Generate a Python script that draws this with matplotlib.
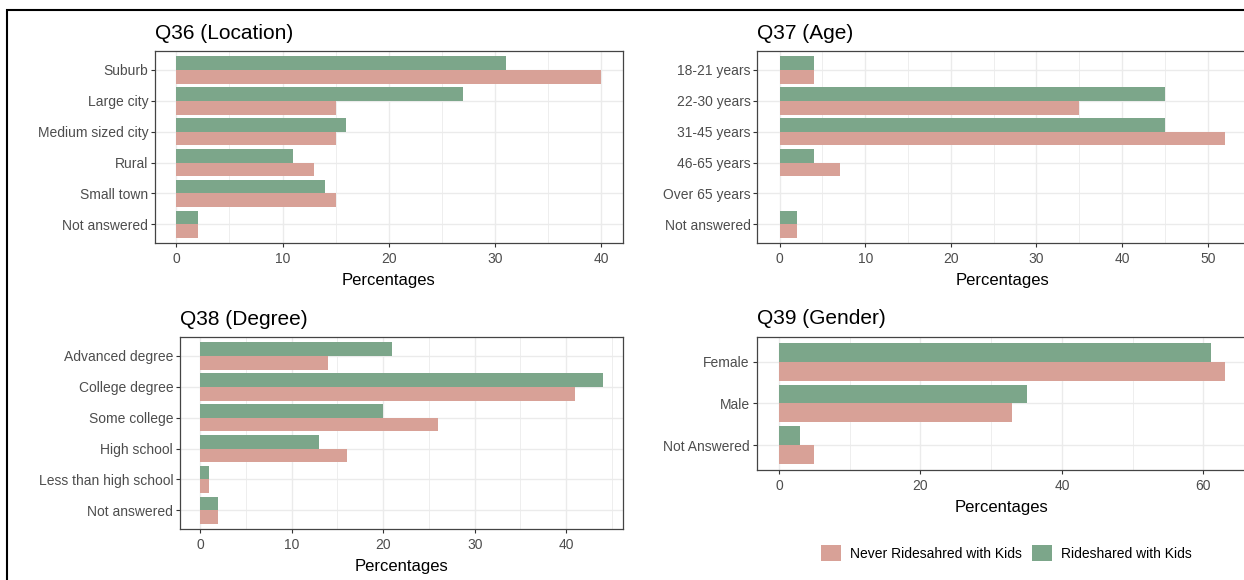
import numpy as np
import matplotlib
matplotlib.use("Agg")
import matplotlib.pyplot as plt
from matplotlib.patches import Patch, Rectangle

plt.rcParams['font.family'] = ['Liberation Sans', 'DejaVu Sans']

# colours of the two groups
never_col = '#d8a197'
rides_col = '#7ca68a'

# Q36 (Location)
loc_cats = ['Suburb', 'Large city', 'Medium sized city', 'Rural', 'Small town', 'Not answered']
loc_rides = [31, 27, 16, 11, 14, 2]
loc_never = [40, 15, 15, 13, 15, 2]

# Q37 (Age)
age_cats = ['18-21 years', '22-30 years', '31-45 years', '46-65 years', 'Over 65 years', 'Not answered']
age_rides = [4, 45, 45, 4, 0, 2]
age_never = [4, 35, 52, 7, 0, 2]

# Q38 (Degree)
deg_cats = ['Advanced degree', 'College degree', 'Some college', 'High school',
            'Less than high school', 'Not answered']
deg_rides = [21, 44, 20, 13, 1, 2]
deg_never = [14, 41, 26, 16, 1, 2]

# Q39 (Gender)
gen_cats = ['Female', 'Male', 'Not Answered']
gen_rides = [61, 35, 3]
gen_never = [63, 33, 5]


def panel(ax, title, cats, rides, never, xlim, major, minor):
    n = len(cats)
    y = np.arange(n)[::-1]
    ax.barh(y + 0.225, rides, height=0.45, color=rides_col, zorder=3)
    ax.barh(y - 0.225, never, height=0.45, color=never_col, zorder=3)
    ax.set_yticks(y)
    ax.set_yticklabels(cats)
    ax.set_ylim(-0.6, n - 1 + 0.6)
    ax.set_xlim(*xlim)
    ax.set_xticks(major)
    ax.set_xticks(minor, minor=True)
    ax.grid(True, which='major', color='#ebebeb', lw=1.0, zorder=0)
    ax.grid(True, which='minor', axis='x', color='#ebebeb', lw=0.6, zorder=0)
    ax.set_axisbelow(True)
    for s in ax.spines.values():
        s.set_color('#444444')
        s.set_linewidth(0.9)
    ax.tick_params(which='major', length=2.75, width=0.8, color='#333333',
                   labelcolor='#4d4d4d', labelsize=10, pad=2.2)
    ax.tick_params(axis='x', which='major', pad=3.5)
    ax.tick_params(which='minor', length=0)
    ax.set_xlabel('Percentages', fontsize=12, labelpad=5.5)
    ax.set_title(title, loc='left', fontsize=15, pad=9)


fig = plt.figure(figsize=(12.44, 5.8), dpi=100)

ax1 = fig.add_axes([0.1246, 0.581, 0.3760, 0.331])
panel(ax1, 'Q36 (Location)', loc_cats, loc_rides, loc_never, (-2, 42),
      [0, 10, 20, 30, 40], [5, 15, 25, 35])

ax2 = fig.add_axes([0.6088, 0.581, 0.3937, 0.331])
panel(ax2, 'Q37 (Age)', age_cats, age_rides, age_never, (-2.6, 54.6),
      [0, 10, 20, 30, 40, 50], [5, 15, 25, 35, 45])

ax3 = fig.add_axes([0.1447, 0.0879, 0.3561, 0.331])
panel(ax3, 'Q38 (Degree)', deg_cats, deg_rides, deg_never, (-2.2, 46.2),
      [0, 10, 20, 30, 40], [5, 15, 25, 35, 45])

ax4 = fig.add_axes([0.6083, 0.1897, 0.3941, 0.2293])
panel(ax4, 'Q39 (Gender)', gen_cats, gen_rides, gen_never, (-3.15, 66.15),
      [0, 20, 40, 60], [10, 30, 50])

handles = [Patch(facecolor=never_col, label='Never Ridesahred with Kids'),
           Patch(facecolor=rides_col, label='Rideshared with Kids')]
fig.legend(handles=handles, loc='center', bbox_to_anchor=(0.8087, 0.0466), ncol=2,
           frameon=False, fontsize=10, handlelength=1.44, handleheight=1.44,
           handletextpad=0.65, columnspacing=0.72)

# black frame around the whole picture (cut off at right and bottom)
fig.add_artist(Rectangle((0.0056, -0.1), 1.2, 1.0822, transform=fig.transFigure,
                         fill=False, edgecolor='black', lw=1.5))

fig.savefig('out.png', dpi=100)
